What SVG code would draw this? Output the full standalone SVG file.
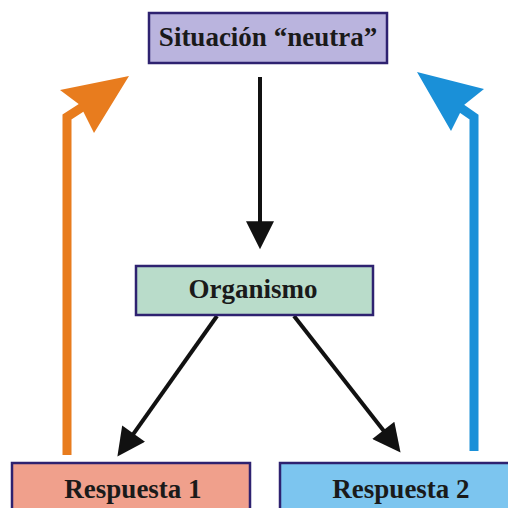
<svg xmlns="http://www.w3.org/2000/svg" width="508" height="508" viewBox="0 0 508 508">
<style>
.box{stroke:#2e2270;stroke-width:2.5}
.lbl{font-family:"Liberation Serif","Times New Roman",serif;font-weight:bold;font-size:27px;fill:#1a1a1a;text-anchor:middle}
.blk{stroke:#111;stroke-width:4;fill:none}
</style>
<defs>
<marker id="ah" viewBox="0 0 10 10" refX="6.67" refY="5" markerWidth="30" markerHeight="28" markerUnits="userSpaceOnUse" orient="auto">
<path d="M0 0 L10 5 L0 10 z" fill="#111"/>
</marker>
</defs>
<rect width="508" height="508" fill="#fff"/>
<g id="connectors">
<line class="blk" x1="260" y1="77" x2="260" y2="240" marker-end="url(#ah)"/>
<line class="blk" x1="217" y1="316" x2="122.8" y2="448.9" marker-end="url(#ah)"/>
<line class="blk" x1="294" y1="316" x2="394.8" y2="445.1" marker-end="url(#ah)"/>
<g id="orange-arrow">
<path d="M67 455 L67 117 L84 106" fill="none" stroke="#e87c1e" stroke-width="9" stroke-linejoin="miter"/>
<polygon points="129,76 60,90 80,105 94,133" fill="#e87c1e"/>
</g>
<g id="blue-arrow">
<path d="M474 451 L474 117 L458 106" fill="none" stroke="#1a90d8" stroke-width="9" stroke-linejoin="miter"/>
<polygon points="417,72 484,89 464,105 451,131" fill="#1a90d8"/>
</g>
</g>
<g id="situacion">
<rect class="box" x="149" y="13" width="238" height="50" fill="#bab4de"/>
<text class="lbl" x="268" y="46">Situación “neutra”</text>
</g>
<g id="organismo">
<rect class="box" x="136" y="266" width="237" height="49" fill="#b9dcca"/>
<text class="lbl" x="253" y="298">Organismo</text>
</g>
<g id="respuesta1">
<rect class="box" x="12" y="463" width="238" height="60" fill="#f0a08c"/>
<text class="lbl" x="133" y="498">Respuesta 1</text>
</g>
<g id="respuesta2">
<rect class="box" x="280" y="463" width="240" height="60" fill="#7cc5ef"/>
<text class="lbl" x="401" y="498">Respuesta 2</text>
</g>
</svg>
